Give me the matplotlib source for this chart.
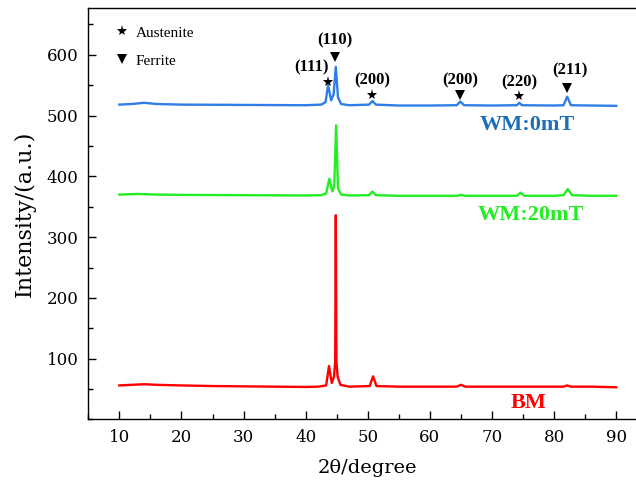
import matplotlib.pyplot as plt
from matplotlib.lines import Line2D
from matplotlib.ticker import MultipleLocator

# XRD patterns (2theta in degrees, intensity a.u.)
bm_x = [10, 12, 14, 16, 20, 25, 30, 35, 40, 42, 43.3, 43.75, 44.2, 44.55, 44.75,
        44.85, 44.95, 45.15, 45.6, 47, 50.3, 50.85, 51.4, 55, 60, 64.3, 65, 65.7,
        70, 75, 81.5, 82.1, 82.7, 86, 90]
bm_y = [56, 57, 58, 57, 56, 55, 54.5, 54, 53.5, 54, 56, 88, 60, 70, 95,
        336, 95, 70, 57, 54, 55, 71, 55, 54, 54, 54, 57, 54,
        54, 54, 54, 56, 54, 54, 53]

g_x = [10, 13, 16, 20, 30, 40, 42.5, 43.3, 43.8, 44.3, 44.6, 44.9, 45.2, 45.7, 47,
       50.2, 50.75, 51.3, 55, 60, 64.4, 65, 65.6, 70, 74, 74.6, 75.2, 80, 81.5,
       82.2, 82.9, 86, 90]
g_y = [370, 371, 370, 369.5, 369, 368.5, 369, 372, 396, 375, 385, 484, 380, 370, 368.5,
       369, 375, 369, 368, 368, 368, 369.5, 368, 368, 368, 373, 368, 368, 369,
       379, 369, 368, 368]

b_x = [10, 12, 14, 16, 20, 30, 40, 42.5, 43.2, 43.6, 44.1, 44.5, 44.85, 45.2, 45.7,
       47, 50.2, 50.75, 51.3, 55, 60, 64.3, 64.9, 65.5, 70, 74, 74.4, 74.8, 80,
       81.5, 82.1, 82.7, 86, 90]
b_y = [518, 519, 521, 519, 518, 517.5, 517, 518, 522, 550, 525, 535, 580, 530, 519,
       517, 518, 524, 518, 516.5, 516.5, 517, 523, 517, 516.5, 517, 521, 517, 516.5,
       517, 531, 517, 516.5, 516]

# peak indexing on the WM:0mT pattern
peak_labels = ['(111)', '(110)', '(200)', '(200)', '(220)', '(211)']
peak_x = [43.6, 44.75, 50.75, 64.9, 74.4, 82.1]
label_x = [41.0, 44.75, 50.75, 64.9, 74.4, 82.5]
marker_y = [555, 596, 534, 534, 532, 545]
label_y = [580, 624, 558, 558, 555, 575]
phase = ['A', 'F', 'A', 'F', 'A', 'F']

plt.rcParams['font.family'] = 'DejaVu Serif'

fig = plt.figure(figsize=(6.36, 4.92), dpi=100)
ax = fig.add_axes([0.1388, 0.1474, 0.879, 0.8364])

ax.plot(b_x, b_y, color='#2f7de6', lw=1.7)
ax.plot(g_x, g_y, color='#22ee22', lw=1.7)
ax.plot(bm_x, bm_y, color='#ff0000', lw=1.7)

for lab, px, lx, my, ly, ph in zip(peak_labels, peak_x, label_x, marker_y, label_y, phase):
    if ph == 'A':
        ax.plot(px, my, marker='*', color='k', ms=8, mew=0)
    else:
        ax.plot(px, my, marker='v', color='k', ms=7, mew=0)
    ax.text(lx, ly, lab, ha='center', va='center', fontsize=12,
            fontweight='bold', family='Liberation Serif')

ax.text(75.6, 484, 'WM:0mT', color='#1e6eb4', fontsize=16, fontweight='bold',
        family='Liberation Serif', ha='center', va='center')
ax.text(76.3, 336, 'WM:20mT', color='#22ee22', fontsize=16, fontweight='bold',
        family='Liberation Serif', ha='center', va='center')
ax.text(75.9, 27, 'BM', color='#ff0000', fontsize=16, fontweight='bold',
        family='Liberation Serif', ha='center', va='center')

handles = [Line2D([], [], ls='none', marker='*', color='k', ms=8, mew=0),
           Line2D([], [], ls='none', marker='v', color='k', ms=7, mew=0)]
ax.legend(handles, ['Austenite', 'Ferrite'], loc='upper left',
          bbox_to_anchor=(0.022, 0.99), frameon=False, handlelength=1.0,
          handletextpad=0.4, labelspacing=0.95, borderpad=0.4,
          prop={'family': 'Liberation Serif', 'size': 11})

ax.set_xlim(5, 95)
ax.set_ylim(0, 677)
ax.set_xticks(range(10, 91, 10))
ax.set_yticks(range(100, 601, 100))
ax.xaxis.set_minor_locator(MultipleLocator(5))
ax.yaxis.set_minor_locator(MultipleLocator(50))
ax.tick_params(which='both', direction='in', labelsize=12, width=1, pad=7)
ax.tick_params(which='major', length=6)
ax.tick_params(which='minor', length=3.5)
for s in ax.spines.values():
    s.set_linewidth(1.0)

ax.set_xlabel('2θ/degree', fontsize=14, labelpad=9)
ax.set_ylabel('Intensity/(a.u.)', fontsize=16, labelpad=8)

fig.savefig('out.png', dpi=100)
